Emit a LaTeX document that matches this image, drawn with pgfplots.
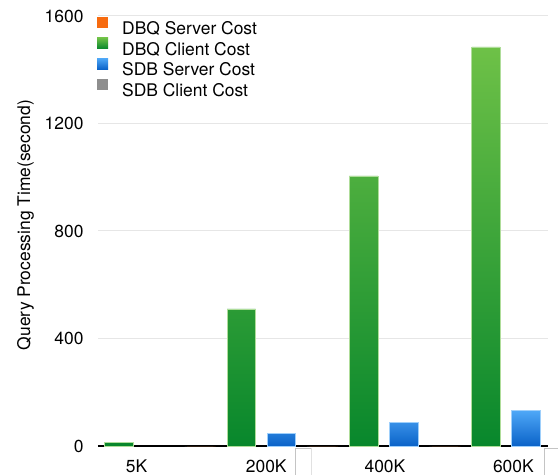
\documentclass[border=0pt]{standalone}
\usepackage{fontspec}
\setmainfont{TeX Gyre Heros}
\usepackage{pgfplots}
\pgfplotsset{compat=1.18}

\definecolor{dbqserver}{HTML}{F76B0F}
\definecolor{greentop}{HTML}{6EC147}
\definecolor{greenbot}{HTML}{08872C}
\definecolor{bluetop}{HTML}{4EA7F7}
\definecolor{bluebot}{HTML}{0A62C8}
\definecolor{sdbclient}{HTML}{8E8E8E}
\definecolor{gridgray}{HTML}{E6E6E6}
\definecolor{framegray}{HTML}{C4C4C4}

\begin{document}
\begin{tikzpicture}
\useasboundingbox (-98bp,-29bp) rectangle (460bp,446bp);
\begin{axis}[
  scale only axis,
  width=450bp, height=430bp,
  at={(0,0)}, anchor=south west,
  font=\fontsize{17.5}{21}\selectfont,
  /pgf/number format/assume math mode=true,
  /pgf/number format/1000 sep={},
  ybar,
  xmin=-0.335, xmax=3.343,
  ymin=0, ymax=1600,
  ytick={0,400,800,1200,1600},
  xtick={-0.02,1.04,2.01,3.06},
  xticklabels={5K,200K,400K,600K},
  tick style={draw=none},
  yticklabel style={xshift=-11bp},
  xticklabel style={inner sep=0pt, anchor=north, yshift=-9bp},
  axis x line*=bottom, axis y line*=left,
  y axis line style={draw=none},
  x axis line style={-, black, line width=1.4bp},
  ymajorgrids,
  major grid style={gridgray, line width=1bp},
  ylabel={Query Processing Time(second)},
  ylabel style={at={(axis description cs:-0.161,0.514)}, anchor=center},
  legend cell align=left,
  legend style={at={(axis description cs:0,1)}, anchor=north west,
    xshift=-1bp, yshift=-1bp,
    draw=none, fill=none, inner sep=0pt, row sep=-0.5bp,
    /tikz/every odd column/.append style={column sep=12bp}},
  legend image code/.code={\path[#1, draw=none] (0bp,0.8bp) rectangle (11bp,11.8bp);},
  bar width=0.233,
]
% DBQ server cost (negligible)
\addplot[bar shift=-0.4905, fill=dbqserver, draw=none]
  coordinates {(0,0) (1,0) (2,0) (3,0)};
% DBQ client cost
\addplot[bar shift=-0.1635, top color=greentop, bottom color=greenbot,
  draw=greentop!55!white, line width=0.6bp]
  coordinates {(0,14) (1,510) (2,1005) (3,1485)};
% SDB server cost
\addplot[bar shift=0.1635, top color=bluetop, bottom color=bluebot,
  draw=bluetop!55!white, line width=0.6bp]
  coordinates {(1,48) (2,88) (3,131)};
% SDB client cost (negligible)
\addplot[bar shift=0.4905, fill=sdbclient, draw=none]
  coordinates {(0,0) (1,0) (2,0) (3,0)};
\legend{DBQ Server Cost, DBQ Client Cost, SDB Server Cost, SDB Client Cost}
\end{axis}
% cell borders below the category axis
\draw[framegray, line width=0.8bp] (197bp,-29bp) -- (197bp,-2bp) -- (213bp,-2bp);
\draw[framegray!50, line width=0.6bp] (213bp,-2bp) -- (213bp,-29bp);
\draw[framegray, line width=0.8bp] (446bp,-29bp) -- (446bp,-2bp) -- (460bp,-2bp);
\end{tikzpicture}
\end{document}
